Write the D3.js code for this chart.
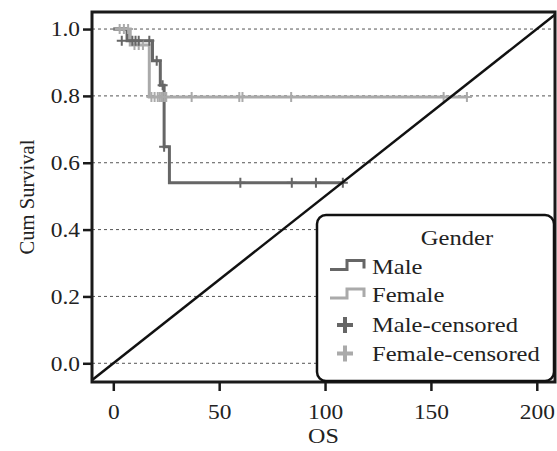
<!DOCTYPE html>
<html>
<head>
<meta charset="utf-8">
<script src="https://cdn.jsdelivr.net/npm/d3@7"></script>
<style>
body { margin:0; background:#fff; }
text { font-family:"Liberation Serif","Times New Roman",serif; fill:#222; }
</style>
</head>
<body>
<svg id="myGraph" width="557" height="451"></svg>
<script>
// survival steps
var maleTime = [0, 6.5, 18.5, 22.2, 24, 26.5];
var maleSurv = [1.0, 0.965, 0.905, 0.832, 0.648, 0.540];
var maleEnd = 109;
var maleCensTime = [4, 9, 10.5, 12, 17, 20.5, 23.3, 24, 60, 84.3, 95.7, 108.4];
var maleCensSurv = [0.965, 0.965, 0.965, 0.965, 0.965, 0.905, 0.832, 0.648, 0.540, 0.540, 0.540, 0.540];

var femaleTime = [0, 8, 17];
var femaleSurv = [1.0, 0.952, 0.797];
var femaleEnd = 167;
var femaleCensTime = [3, 5, 7, 10, 12, 14, 18, 19.5, 21, 22, 23, 24, 25, 37, 59.5, 61, 84, 156, 167];
var femaleCensSurv = [1.0, 1.0, 1.0, 0.952, 0.952, 0.952, 0.797, 0.797, 0.797, 0.797, 0.797, 0.797, 0.797, 0.797, 0.797, 0.797, 0.797, 0.797, 0.797];

// reference diagonal (y = x / 200), clipped by the frame
var diagTime = [-20, 220];
var diagSurv = [-0.1, 1.1];

var xTicks = [0, 50, 100, 150, 200];
var yTicks = [0.0, 0.2, 0.4, 0.6, 0.8, 1.0];
var legendLabels = ["Male", "Female", "Male-censored", "Female-censored"];
var legendTitle = "Gender";

var plotLeft = 92, plotRight = 555, plotTop = 12, plotBottom = 382;
var stretch = 1.17;	// text in the picture is a bit wide
var maleColor = "#666666", femaleColor = "#aaaaaa";

var svg = d3.select("#myGraph");

var xScale = d3.scaleLinear().domain([-10.06, 208.6]).range([plotLeft, plotRight]);
var yScale = d3.scaleLinear().domain([-0.056, 1.051]).range([plotBottom, plotTop]);

// clip
svg.append("clipPath").attr("id", "plotClip")
	.append("rect").attr("x", plotLeft).attr("y", plotTop)
	.attr("width", plotRight - plotLeft).attr("height", plotBottom - plotTop);

// dotted grid lines
svg.append("g").selectAll("line")
	.data(yTicks).enter().append("line")
	.attr("x1", plotLeft).attr("x2", plotRight)
	.attr("y1", function(d){ return yScale(d); })
	.attr("y2", function(d){ return yScale(d); })
	.attr("stroke", "#555").attr("stroke-width", 1)
	.attr("stroke-dasharray", "3,3");

// step curves
function stepData(times, surv, end){
	var pts = times.map(function(t, i){ return { t: t, s: surv[i] }; });
	pts.push({ t: end, s: surv[surv.length - 1] });
	return pts;
}
var line = d3.line()
	.x(function(d){ return xScale(d.t); })
	.y(function(d){ return yScale(d.s); })
	.curve(d3.curveStepAfter);

var plot = svg.append("g").attr("clip-path", "url(#plotClip)");

plot.append("path")
	.attr("d", line(stepData(femaleTime, femaleSurv, femaleEnd)))
	.attr("fill", "none").attr("stroke", femaleColor).attr("stroke-width", 3);
plot.append("path")
	.attr("d", line(stepData(maleTime, maleSurv, maleEnd)))
	.attr("fill", "none").attr("stroke", maleColor).attr("stroke-width", 3);

// censored marks
function drawCensored(times, surv, color, size){
	var g = plot.append("g");
	times.forEach(function(t, i){
		var cx = xScale(t), cy = yScale(surv[i]);
		g.append("path")
			.attr("d", "M" + (cx - size/2) + "," + cy + "H" + (cx + size/2) +
				"M" + cx + "," + (cy - size/2) + "V" + (cy + size/2))
			.attr("stroke", color).attr("stroke-width", 2).attr("fill", "none");
	});
}
drawCensored(femaleCensTime, femaleCensSurv, femaleColor, 10);
drawCensored(maleCensTime, maleCensSurv, maleColor, 10);

// diagonal
plot.append("line")
	.attr("x1", xScale(diagTime[0])).attr("y1", yScale(diagSurv[0]))
	.attr("x2", xScale(diagTime[1])).attr("y2", yScale(diagSurv[1]))
	.attr("stroke", "#111").attr("stroke-width", 2.5);

// frame
svg.append("rect")
	.attr("x", plotLeft).attr("y", plotTop)
	.attr("width", plotRight - plotLeft).attr("height", plotBottom - plotTop)
	.attr("fill", "none").attr("stroke", "#1a1a1a").attr("stroke-width", 3);

// axes
var yAxis = svg.append("g")
	.attr("transform", "translate(" + plotLeft + ",0)")
	.call(d3.axisLeft(yScale).tickValues(yTicks).tickFormat(d3.format(".1f")).tickSize(9).tickSizeOuter(0));
var xAxis = svg.append("g")
	.attr("transform", "translate(0," + plotBottom + ")")
	.call(d3.axisBottom(xScale).tickValues(xTicks).tickSize(9).tickSizeOuter(0));

[yAxis, xAxis].forEach(function(ax){
	ax.select(".domain").remove();
	ax.selectAll(".tick line").attr("stroke", "#1a1a1a").attr("stroke-width", 2.5);
	ax.selectAll(".tick text").attr("font-size", 20).attr("fill", "#222");
});
yAxis.selectAll(".tick text").attr("x", -10.3).attr("dy", "0.34em")
	.attr("transform", "scale(" + stretch + ",1)");
xAxis.selectAll(".tick text").attr("y", 37).attr("dy", 0)
	.attr("transform", "scale(" + stretch + ",1)");

// axis titles
svg.append("text")
	.attr("transform", "translate(" + ((plotLeft + plotRight) / 2) + ",443) scale(" + stretch + ",1)")
	.attr("text-anchor", "middle").attr("font-size", 20.6).text("OS");
svg.append("text")
	.attr("transform", "translate(34," + ((plotTop + plotBottom) / 2) + ") rotate(-90)")
	.attr("text-anchor", "middle").attr("font-size", 20.6).text("Cum Survival");

// legend
var legend = svg.append("g");
legend.append("rect")
	.attr("x", 317).attr("y", 215).attr("width", 237).attr("height", 166)
	.attr("rx", 9).attr("ry", 9)
	.attr("fill", "#fff").attr("stroke", "#111").attr("stroke-width", 2.5);
legend.append("text")
	.attr("transform", "translate(457,245) scale(" + stretch + ",1)")
	.attr("text-anchor", "middle").attr("font-size", 21).text(legendTitle);

var rowY = [273.5, 302, 332, 360.5];
var legendColors = [maleColor, femaleColor, maleColor, femaleColor];
legendLabels.forEach(function(label, i){
	var y = rowY[i];
	if (i < 2){
		legend.append("path")
			.attr("d", "M330," + (y - 4) + "H347V" + (y - 13) + "H364V" + (y - 5))
			.attr("fill", "none").attr("stroke", legendColors[i]).attr("stroke-width", 3);
	} else {
		legend.append("path")
			.attr("d", "M337," + (y - 7) + "H353M345," + (y - 15) + "V" + (y + 1))
			.attr("fill", "none").attr("stroke", legendColors[i]).attr("stroke-width", 4);
	}
	legend.append("text")
		.attr("transform", "translate(372," + y + ") scale(" + stretch + ",1)")
		.attr("font-size", 21).text(label);
});
</script>
</body>
</html>
